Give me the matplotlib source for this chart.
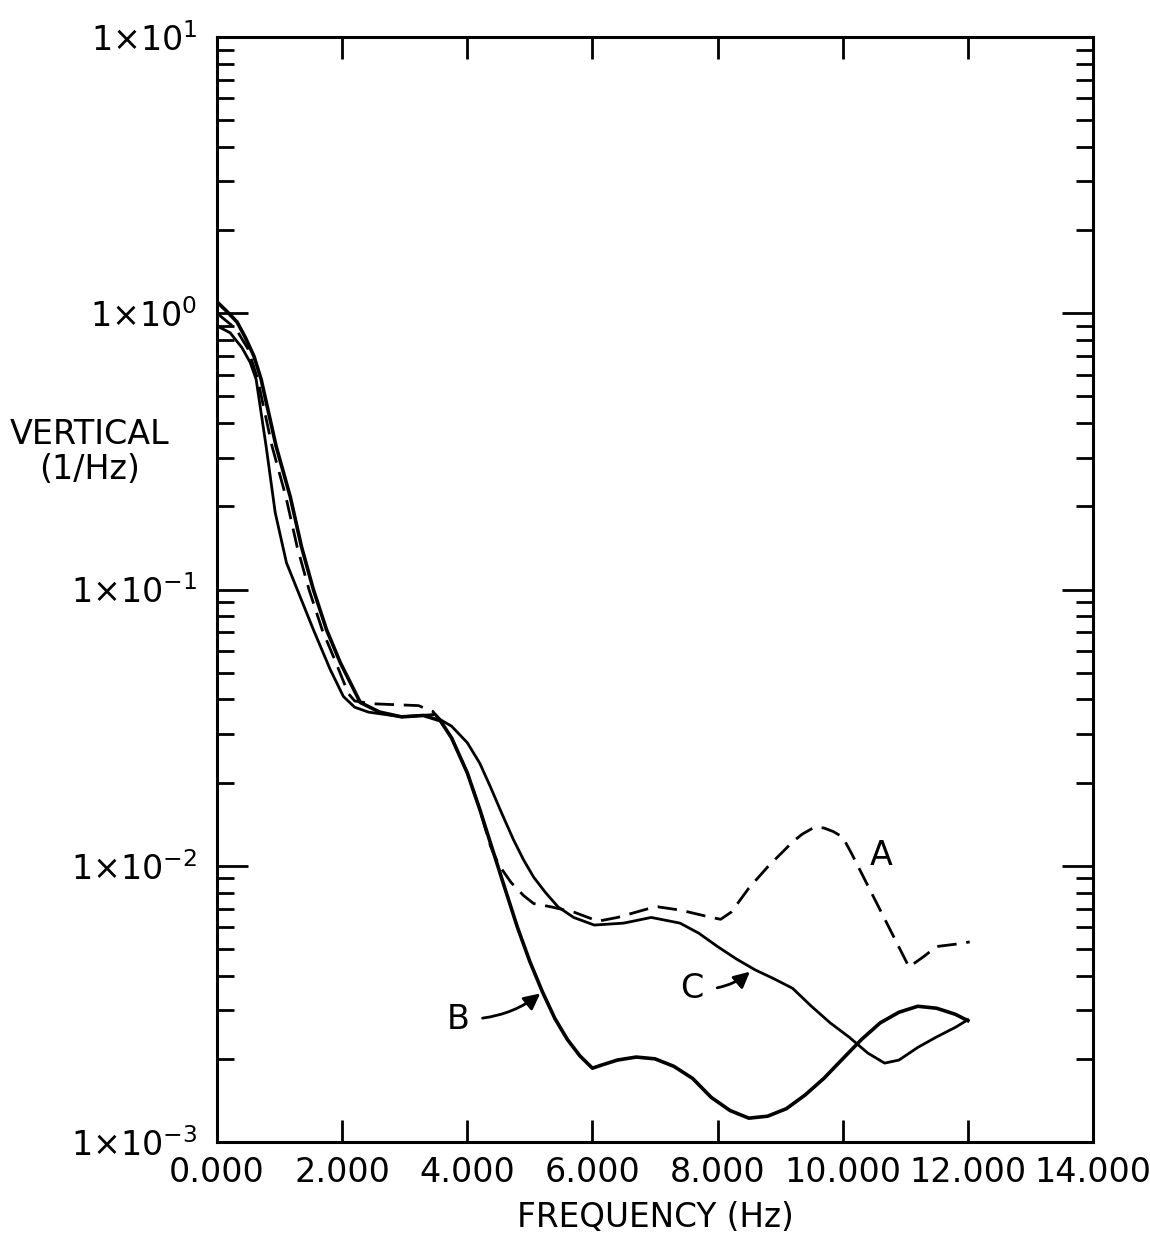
import numpy as np
import matplotlib
matplotlib.use("Agg")
import matplotlib.pyplot as plt
from matplotlib.ticker import LogLocator, NullFormatter, FuncFormatter, FixedLocator

plt.rcParams['font.family'] = ['DejaVu Sans']
plt.rcParams['mathtext.fontset'] = 'dejavusans'

# curve A (dashed)
freq_a = [0.0, 0.3, 0.5, 0.65, 0.88, 1.1, 1.28, 1.47, 1.68, 1.9, 2.1, 2.2, 2.47,
          3.22, 3.45, 3.57, 3.75, 4.0, 4.2, 4.37, 4.5, 4.7, 4.9, 5.06, 5.34, 5.7, 6.09,
          6.4, 6.9, 7.05, 7.42, 7.9, 8.05, 8.22, 8.5, 8.8, 9.2, 9.35, 9.55, 9.7, 9.85,
          10.0, 10.14, 11.06, 11.3, 11.5, 11.8, 12.03]
vert_a = [1.0, 0.88, 0.74, 0.577, 0.33, 0.217, 0.143, 0.1, 0.0716, 0.0544, 0.042, 0.0395, 0.0386,
          0.038, 0.0362, 0.0335, 0.029, 0.0217, 0.016, 0.0118, 0.0101, 0.0087, 0.0078, 0.0073, 0.0071, 0.0068, 0.0063,
          0.0065, 0.0070, 0.0071, 0.0069, 0.0065, 0.0064, 0.0068, 0.0083, 0.0099, 0.0122, 0.0130, 0.0138, 0.0137, 0.0133,
          0.0127, 0.0111, 0.0043, 0.0047, 0.0051, 0.0052, 0.0053]

# curve B (heavy solid)
freq_b = [0.0, 0.15, 0.32, 0.45, 0.59, 0.705, 0.945, 1.17, 1.35, 1.54, 1.75, 1.97, 2.29,
          2.6, 2.95, 3.3, 3.57, 3.75, 4.0, 4.2, 4.37, 4.6, 4.8, 5.0, 5.2, 5.4, 5.6, 5.8, 6.0,
          6.15, 6.4, 6.7, 7.0, 7.3, 7.6, 7.9, 8.2, 8.5, 8.8, 9.1, 9.4, 9.7, 10.0, 10.3, 10.6,
          10.9, 11.2, 11.5, 11.8, 12.0]
vert_b = [1.1, 1.02, 0.93, 0.82, 0.70, 0.577, 0.33, 0.217, 0.143, 0.1, 0.0716, 0.0544, 0.039,
          0.036, 0.0346, 0.035, 0.0335, 0.029, 0.0217, 0.016, 0.0121, 0.0083, 0.0060, 0.0045, 0.0035, 0.0028, 0.00235, 0.00205, 0.00185,
          0.0019, 0.00198, 0.00203, 0.002, 0.00188, 0.0017, 0.00145, 0.0013, 0.00122, 0.00124, 0.00132, 0.00148, 0.0017, 0.002, 0.00235, 0.0027,
          0.00295, 0.0031, 0.00305, 0.0029, 0.00275]

# curve C (solid)
freq_c = [0.0, 0.21, 0.4, 0.53, 0.625, 0.785, 0.93, 1.11, 1.33, 1.54, 1.81, 2.02, 2.2, 2.42,
          2.95, 3.49, 3.57, 3.75, 4.0, 4.2, 4.37, 4.55, 4.74, 4.9, 5.06, 5.25, 5.45, 5.7, 6.03,
          6.5, 6.94, 7.4, 7.7, 8.0, 8.3, 8.6, 8.9, 9.2, 9.5, 9.8, 10.1, 10.4, 10.67, 10.9, 11.2,
          11.5, 11.8, 12.0]
vert_c = [0.9, 0.85, 0.75, 0.664, 0.577, 0.33, 0.19, 0.125, 0.094, 0.0716, 0.0513, 0.041, 0.0375, 0.036,
          0.0346, 0.0353, 0.0338, 0.032, 0.0279, 0.0235, 0.0193, 0.0155, 0.0124, 0.0105, 0.0091, 0.008, 0.0071, 0.0065, 0.0061,
          0.0062, 0.0065, 0.0062, 0.0057, 0.0051, 0.0046, 0.0042, 0.0039, 0.0036, 0.0031, 0.0027, 0.0024, 0.0021, 0.00193, 0.00198, 0.0022,
          0.0024, 0.0026, 0.00277]

xticks = [0, 2, 4, 6, 8, 10, 12, 14]

fig = plt.figure(figsize=(11.5, 12.35), dpi=100)
ax = fig.add_axes([0.1887, 0.0753, 0.7617, 0.8947])

ax.plot(freq_a, vert_a, color='black', lw=2.0, dashes=(7, 3.5))
ax.plot(freq_b, vert_b, color='black', lw=2.6)
ax.plot(freq_c, vert_c, color='black', lw=2.0)

ax.set_yscale('log')
ax.set_xlim(0, 14)
ax.set_ylim(1e-3, 1e1)

ax.xaxis.set_major_locator(FixedLocator(xticks))
ax.xaxis.set_major_formatter(FuncFormatter(lambda v, p: f'{v:.3f}'))
ax.yaxis.set_major_locator(LogLocator(base=10, numticks=10))
ax.yaxis.set_minor_locator(LogLocator(base=10, subs=range(2, 10), numticks=50))
ax.yaxis.set_minor_formatter(NullFormatter())
ax.yaxis.set_major_formatter(FuncFormatter(
    lambda v, p: r'$\mathregular{1{\times}10^{%d}}$' % int(round(np.log10(v)))))

ax.tick_params(axis='x', which='major', direction='in', top=True, length=16, width=2,
               labelsize=24, pad=10)
ax.tick_params(axis='y', which='major', direction='in', right=True, length=22, width=2,
               labelsize=24, pad=14)
ax.tick_params(axis='y', which='minor', direction='in', right=True, length=12, width=2)
for s in ax.spines.values():
    s.set_linewidth(2.2)

ax.set_xlabel('FREQUENCY (Hz)', fontsize=23.5, labelpad=9)
fig.text(0.078, 0.634, 'VERTICAL\n(1/Hz)', fontsize=24, ha='center', va='center',
         linespacing=1.1)

ax.text(10.62, 0.0109, 'A', fontsize=24, ha='center', va='center')
ax.text(3.85, 0.00277, 'B', fontsize=24, ha='center', va='center')
ax.text(7.58, 0.0036, 'C', fontsize=24, ha='center', va='center')
ax.annotate('', xy=(5.2, 0.0035), xytext=(4.2, 0.0028),
            arrowprops=dict(arrowstyle='-|>', connectionstyle='arc3,rad=0.15',
                            lw=2, color='black', mutation_scale=24))
ax.annotate('', xy=(8.55, 0.0042), xytext=(7.95, 0.0036),
            arrowprops=dict(arrowstyle='-|>', connectionstyle='arc3,rad=0.15',
                            lw=2, color='black', mutation_scale=24))

plt.savefig('out.png')
